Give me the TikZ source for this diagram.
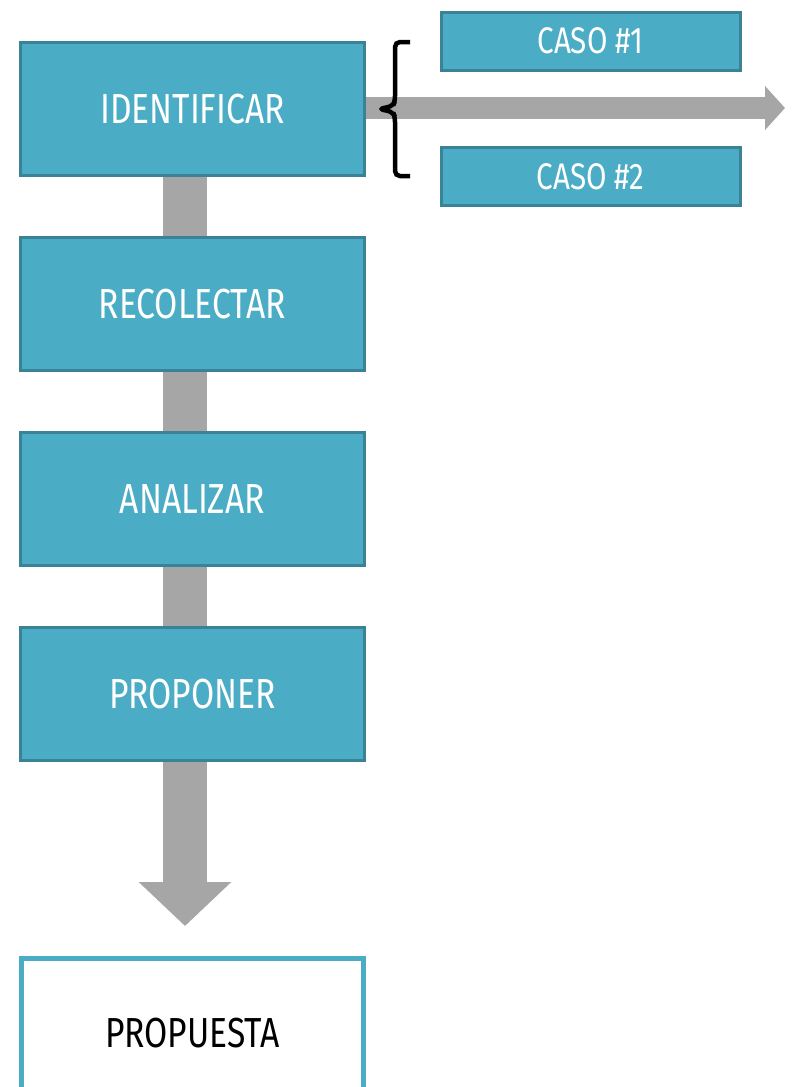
\documentclass[tikz,border=0pt]{standalone}
\usepackage{fontspec}
\setmainfont[FakeStretch=0.8]{Fira Sans}
\usepackage{tikz}
\usetikzlibrary{arrows.meta,positioning}
\definecolor{aqua}{HTML}{4BACC6}
\definecolor{aquadark}{HTML}{3A8296}
\definecolor{bargray}{HTML}{A6A6A6}

\begin{document}
\begin{tikzpicture}[x=1pt,y=-1pt,node distance=59pt,
        paso/.style={rectangle,draw=aquadark,fill=aqua,line width=3pt,minimum width=344pt,minimum height=133pt,text=white,font=\fontsize{42}{42}\selectfont},
        caso/.style={rectangle,draw=aquadark,fill=aqua,line width=3pt,minimum width=299pt,minimum height=58pt,text=white,font=\fontsize{37}{37}\selectfont},
        result/.style={rectangle,draw=aqua,fill=white,line width=5pt,minimum width=342pt,minimum height=150pt,text=black,font=\fontsize{42}{42}\selectfont},
        bar/.style={draw=bargray,line width=44pt},
        llave/.style={draw=black,line width=4.5pt,rounded corners=5pt}]
            \useasboundingbox (0,0) rectangle (792,1087);

            \node   [paso]                      at (192.5,109)  (ident) {IDENTIFICAR};
            \node   [paso]      [below=of ident]                (recol) {RECOLECTAR};
            \node   [paso]      [below=of recol]                (anal)  {ANALIZAR};
            \node   [paso]      [below=of anal]                 (prop)  {PROPONER};
            \node   [result]    [below=194pt of prop]           (res)   {PROPUESTA};
            \node   [caso]                      at (590.5,41)   (caso1) {CASO \#1};
            \node   [caso]                      at (590.5,176.5) (caso2) {CASO \#2};
            \coordinate (fin) at (785,108);

            % barras grises
            \draw   [bar] ([xshift=-7.5pt]ident.south) -- ([xshift=-7.5pt]recol.north);
            \draw   [bar] ([xshift=-7.5pt]recol.south) -- ([xshift=-7.5pt]anal.north);
            \draw   [bar] ([xshift=-7.5pt]anal.south)  -- ([xshift=-7.5pt]prop.north);
            \draw   [bar,-{Triangle[width=90pt,length=44pt]},shorten >=30pt]
                    ([xshift=-7.5pt]prop.south) -- ([xshift=-7.5pt]res.north);
            \draw   [bar,line width=22pt,-{Triangle[width=43pt,length=20pt]}]
                    (ident.east |- fin) -- (fin);

            % llave
            \draw   [llave] ([xshift=44pt,yshift=-1pt]ident.north east) -- ++(-15,0) -- ++(0,59)
                    -- ++(-2,5) -- ++(-14,3) -- ++(14,3) -- ++(2,5) -- ++(0,59) -- ++(15,0);
        \end{tikzpicture}
\end{document}
